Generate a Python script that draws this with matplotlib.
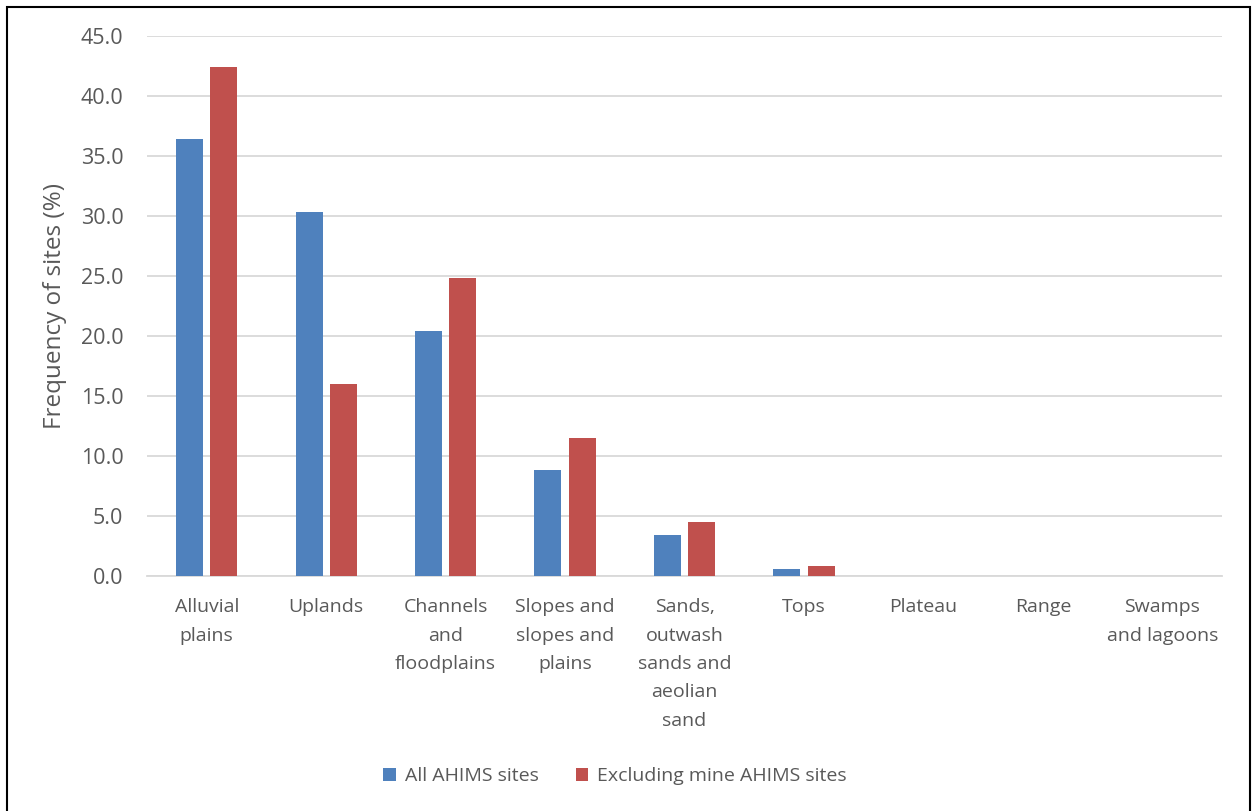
import matplotlib.pyplot as plt
import numpy as np
from matplotlib.patches import Rectangle

categories = [
    "Alluvial\nplains",
    "Uplands",
    "Channels\nand\nfloodplains",
    "Slopes and\nslopes and\nplains",
    "Sands,\noutwash\nsands and\naeolian\nsand",
    "Tops",
    "Plateau",
    "Range",
    "Swamps\nand lagoons",
]
all_sites = [36.4, 30.3, 20.4, 8.8, 3.4, 0.6, 0.0, 0.0, 0.0]
excl_mine = [42.4, 16.0, 24.8, 11.5, 4.5, 0.8, 0.0, 0.0, 0.0]
y_ticks = [0, 5, 10, 15, 20, 25, 30, 35, 40, 45]

blue = "#4f81bd"
red = "#c0504d"
text_col = "#595959"
grid_col = "#d9d9d9"

plt.rcParams["font.family"] = ["Open Sans", "DejaVu Sans"]

W, H = 1252, 811
fig = plt.figure(figsize=(W / 100, H / 100), dpi=100)
ax = fig.add_axes([147 / W, 1 - 576 / H, (1222 - 147) / W, (576 - 36) / H])

x = np.arange(len(categories))
bw = 0.226
gap = 0.06
ax.bar(x - (bw + gap) / 2, all_sites, bw, color=blue, label="All AHIMS sites", zorder=3)
ax.bar(x + (bw + gap) / 2, excl_mine, bw, color=red, label="Excluding mine AHIMS sites", zorder=3)

ax.set_xlim(-0.5, len(categories) - 0.5)
ax.set_ylim(0, 45)
ax.set_yticks(y_ticks)
ax.set_yticklabels([f"{v:.1f}" for v in y_ticks], fontsize=15.5)
ax.set_xticks(x)
ax.set_xticklabels(categories, linespacing=1.74, va="top", fontsize=14)
ax.tick_params(axis="both", length=0, colors=text_col)
ax.tick_params(axis="x", pad=16)
ax.tick_params(axis="y", pad=17)
ax.grid(axis="y", color=grid_col, linewidth=1.3, zorder=0)
for s in ["top", "right", "left"]:
    ax.spines[s].set_visible(False)
ax.spines["bottom"].set_color(grid_col)
ax.spines["bottom"].set_linewidth(1.3)

ax.set_ylabel("Frequency of sites (%)", fontsize=17.5, color=text_col)
ax.yaxis.set_label_coords(-0.0744, 0.5)

fig.legend(loc="center", bbox_to_anchor=(615 / W, 1 - 776 / H), ncol=2, frameon=False,
           fontsize=14, labelcolor=text_col, handlelength=0.65, handleheight=0.65,
           handletextpad=0.45, columnspacing=1.9)

# outer chart border
fig.patches.append(Rectangle((7 / W, -0.01), (1250 - 7) / W, 1 - 7 / H + 0.01,
                             transform=fig.transFigure, fill=False,
                             edgecolor="black", linewidth=1.5))

fig.savefig("out.png", dpi=100)
